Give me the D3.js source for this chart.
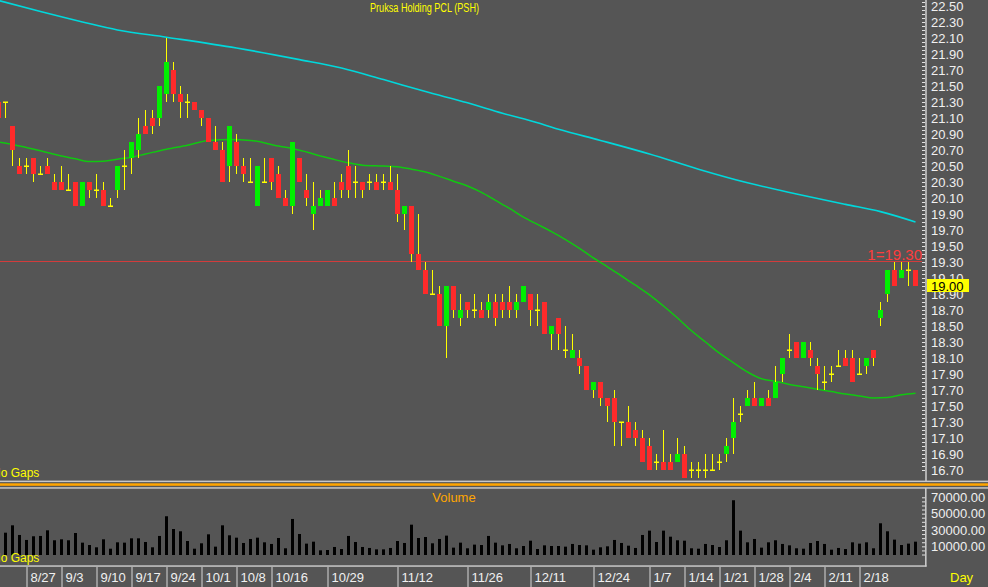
<!DOCTYPE html>
<html><head><meta charset="utf-8">
<script src="https://cdn.jsdelivr.net/npm/d3@7"></script>
<style>html,body{margin:0;padding:0;background:#555555;overflow:hidden}svg{display:block}</style>
</head><body><svg id="c" width="988" height="587"></svg>
<script>
const dates = ["8/21","8/22","8/23","8/24","8/27","8/28","8/29","8/30","8/31",
"9/3","9/4","9/5","9/6","9/7","9/10","9/11","9/12","9/13","9/14","9/17","9/18","9/19","9/20","9/21",
"9/24","9/25","9/26","9/27","9/28","10/1","10/2","10/3","10/4","10/5","10/8","10/9","10/10","10/11","10/12",
"10/16","10/17","10/18","10/19","10/22","10/24","10/25","10/26","10/29","10/30","10/31","11/1","11/2",
"11/5","11/6","11/7","11/8","11/9","11/12","11/13","11/14","11/15","11/16","11/19","11/20","11/21","11/22","11/23",
"11/26","11/27","11/28","11/29","11/30","12/3","12/4","12/6","12/7","12/11","12/12","12/13","12/14",
"12/17","12/18","12/19","12/20","12/21","12/24","12/25","12/26","12/27","12/28","1/2","1/3","1/4",
"1/7","1/8","1/9","1/10","1/11","1/14","1/15","1/16","1/17","1/18","1/21","1/22","1/23","1/24","1/25",
"1/28","1/29","1/30","1/31","2/1","2/4","2/5","2/6","2/7","2/8","2/11","2/12","2/13","2/14","2/15",
"2/18","2/20","2/21","2/22","2/25","2/26","2/27","2/28","3/1"];
const open  = [21.3,21.3,21.0,20.5,20.5,20.6,20.4,20.5,20.3,20.3,20.2,20.3,20.0,20.3,20.2,20.2,20.0,20.2,20.5,20.6,20.7,21.0,21.1,21.1,21.4,21.7,21.4,21.3,21.3,21.2,21.1,20.8,20.7,20.5,20.8,20.5,20.3,20.0,20.3,20.6,20.4,20.1,20.0,20.6,20.2,19.9,20.0,20.0,20.1,20.3,20.5,20.3,20.3,20.3,20.3,20.3,20.3,20.2,19.9,20.0,19.4,19.2,18.9,18.9,18.5,19.0,18.6,18.8,18.7,18.7,18.7,18.8,18.8,18.8,18.7,18.8,18.9,18.7,18.8,18.4,18.6,18.2,18.1,18.1,18.0,17.7,17.8,17.6,17.6,17.3,17.3,17.2,17.1,17.0,16.8,16.8,16.8,16.8,16.9,16.7,16.7,16.7,16.7,16.8,16.9,17.1,17.4,17.5,17.6,17.5,17.6,17.6,17.9,18.2,18.3,18.1,18.2,18.0,17.8,17.9,18.0,18.1,18.1,17.9,18.0,18.2,18.6,18.9,19.2,19.1,19.2,19.2];
const high  = [21.3,21.3,21.0,20.6,20.6,20.6,20.5,20.6,20.4,20.5,20.4,20.3,20.3,20.3,20.4,20.3,20.1,20.5,20.7,20.8,21.1,21.2,21.2,21.5,22.1,21.8,21.5,21.4,21.3,21.2,21.1,21.0,20.8,21.0,20.9,20.6,20.6,20.5,20.6,20.6,20.5,20.2,20.8,20.6,20.4,20.3,20.2,20.2,20.3,20.4,20.7,20.5,20.3,20.4,20.4,20.4,20.5,20.4,20.0,20.0,19.9,19.3,19.2,19.0,19.0,19.0,18.9,18.8,18.9,18.8,18.9,18.9,18.9,19.0,18.9,19.0,18.9,18.9,18.8,18.5,18.6,18.5,18.4,18.2,18.0,17.8,17.8,17.6,17.7,17.3,17.5,17.3,17.2,17.1,16.9,17.2,16.9,17.1,17.0,16.8,16.8,16.9,16.9,16.9,17.1,17.6,17.5,17.7,17.8,17.6,17.7,18.0,18.1,18.4,18.3,18.3,18.3,18.1,18.0,18.0,18.2,18.2,18.2,18.1,18.1,18.2,18.8,19.2,19.3,19.3,19.3,19.2];
const low   = [21.1,21.1,20.5,20.4,20.4,20.3,20.4,20.4,20.2,20.2,20.2,20.0,20.0,20.1,20.1,20.0,20.0,20.1,20.2,20.4,20.6,20.9,20.9,21.0,21.3,21.3,21.1,21.1,21.2,21.0,20.8,20.7,20.3,20.3,20.4,20.3,20.3,20.0,20.3,20.2,20.1,20.0,19.9,20.3,20.0,19.7,20.0,20.0,20.0,20.1,20.1,20.1,20.1,20.2,20.2,20.2,20.2,19.8,19.7,19.3,19.2,18.9,18.9,18.5,18.1,18.6,18.5,18.6,18.6,18.6,18.6,18.5,18.6,18.6,18.6,18.8,18.5,18.5,18.4,18.2,18.2,18.1,18.1,17.9,17.7,17.6,17.5,17.3,17.0,17.0,17.1,17.0,16.8,16.7,16.7,16.7,16.7,16.8,16.6,16.6,16.6,16.6,16.7,16.7,16.8,16.9,17.3,17.5,17.5,17.5,17.5,17.6,17.8,18.1,18.1,18.1,18.0,17.7,17.7,17.8,18.0,18.0,17.8,17.9,17.9,18.0,18.5,18.8,19.0,19.1,19.0,19.0];
const close = [21.1,21.3,20.7,20.4,20.5,20.4,20.4,20.4,20.2,20.2,20.2,20.0,20.3,20.2,20.2,20.0,20.0,20.5,20.5,20.8,20.9,20.9,21.0,21.5,21.8,21.4,21.3,21.3,21.2,21.1,20.8,20.7,20.3,21.0,20.5,20.4,20.3,20.5,20.3,20.3,20.1,20.0,20.8,20.3,20.1,20.0,20.1,20.2,20.0,20.2,20.2,20.3,20.2,20.3,20.2,20.3,20.2,19.9,20.0,19.4,19.2,18.9,18.9,18.5,19.0,18.7,18.7,18.7,18.7,18.6,18.8,18.6,18.7,18.7,18.8,19.0,18.7,18.7,18.4,18.5,18.4,18.2,18.2,18.0,17.7,17.8,17.6,17.5,17.3,17.3,17.1,17.1,16.8,16.7,16.8,16.7,16.7,16.9,16.6,16.7,16.7,16.7,16.7,16.8,17.0,17.3,17.4,17.6,17.5,17.6,17.5,17.8,18.1,18.2,18.1,18.3,18.1,17.9,17.8,17.9,18.0,18.0,17.8,17.9,18.1,18.1,18.7,19.2,19.0,19.2,19.2,19.0];
const volume = [37000,26700,35700,23900,17800,22300,22700,29600,17400,18600,17400,26300,14500,11600,8800,18600,7100,14900,14500,19800,19800,15300,8800,22700,46800,31200,28400,16500,7100,13700,24700,9600,35700,23500,20600,14100,19000,20600,14900,12900,20200,7600,43500,25100,13300,15700,5100,5500,9200,6700,22700,15300,9200,8000,6300,6300,8000,16500,14100,36500,20200,21400,13700,19000,23100,8400,14500,7600,12100,11600,22700,14500,11200,12900,7600,10400,16900,6700,11200,10400,10400,9600,12900,11600,11200,5900,8800,10000,17800,14100,10800,8000,23900,29200,15300,29200,21800,17400,16900,7600,7100,12900,11600,9200,17400,66400,29200,14900,19000,8400,14900,17400,12900,11200,7600,7100,14100,16500,12900,5900,8000,6700,14900,13300,14900,7600,38200,28400,18200,11600,13300,15700];
// moving averages, at candle indices
const maShortIdx = [0,3,6,9,11,13,15,17,19,21,24,27,30,33,36,40,42,44,46,48,50,52,55,57,59,61,63,65,67,69,71,73,75,77,79,81,83,85,87,89,91,93,95,97,99,101,103,105,107,109,111,113,115,117,119,121,123,125,127,129,131];
const maShortVal = [20.80,20.75,20.69,20.625,20.59,20.555,20.56,20.585,20.61,20.65,20.71,20.76,20.82,20.83,20.82,20.75,20.72,20.675,20.625,20.58,20.54,20.51,20.50,20.49,20.46,20.425,20.37,20.31,20.25,20.17,20.07,19.97,19.86,19.77,19.68,19.58,19.47,19.35,19.24,19.125,19.01,18.89,18.75,18.60,18.44,18.30,18.16,18.04,17.925,17.84,17.81,17.77,17.74,17.71,17.68,17.65,17.625,17.60,17.605,17.64,17.66];
const maLongIdx = [0,6,12,17,24,34,43,49,55,61,67,72,77,80,86,93,100,107,114,121,126,131];
const maLongVal = [22.57,22.43,22.30,22.20,22.11,21.975,21.83,21.725,21.58,21.43,21.29,21.16,21.04,20.96,20.82,20.65,20.46,20.29,20.15,20.02,19.93,19.80];
const dateTicks = ["8/27","9/3","9/10","9/17","9/24","10/1","10/8","10/16","10/29","11/12","11/26","12/11","12/24","1/7","1/14","1/21","1/28","2/4","2/11","2/18"];
const priceTicks = [22.5,22.3,22.1,21.9,21.7,21.5,21.3,21.1,20.9,20.7,20.5,20.3,20.1,19.9,19.7,19.5,19.3,19.1,18.9,18.7,18.5,18.3,18.1,17.9,17.7,17.5,17.3,17.1,16.9,16.7];
const volumeTicks = [70000,50000,30000,10000];
const title = "Pruksa Holding PCL (PSH)";
const lastPrice = 19.00;
const markPrice = 19.30;

const svg = d3.select("#c");
const W = 988, H = 587;
const F = "'Liberation Sans', Arial, sans-serif";
svg.append("rect").attr("width", W).attr("height", H).attr("fill", "#555555");

const x = d3.scalePoint().domain(dates).range([-1.5, 915.5]);
const y = d3.scaleLinear().domain([16.7, 22.5]).range([470, 6]);
const yv = d3.scaleLinear().domain([0, 70000]).range([554.5, 497.3]);

svg.append("clipPath").attr("id","pc").append("rect").attr("x",0).attr("y",0).attr("width",925).attr("height",480);
svg.append("clipPath").attr("id","vc").append("rect").attr("x",0).attr("y",489).attr("width",925).attr("height",76);
const pg = svg.append("g").attr("clip-path","url(#pc)");
const vg = svg.append("g").attr("clip-path","url(#vc)");

// title
svg.append("text").attr("x", 424.5).attr("y", 12).attr("text-anchor","middle")
  .attr("font-family", F).attr("font-size", 12).attr("fill", "#ffff00")
  .attr("textLength", 109).attr("lengthAdjust","spacingAndGlyphs").text(title);

// mark line at 19.30
pg.append("line").attr("x1",0).attr("x2",922).attr("y1",Math.round(y(markPrice))-0.5).attr("y2",Math.round(y(markPrice))-0.5)
  .attr("stroke","#d23c3c").attr("stroke-width",1);

// moving averages
const lineGen = d3.line().x(d => x(dates[d[0]])).y(d => y(d[1])).curve(d3.curveMonotoneX);
pg.append("path").datum(maLongIdx.map((k,j)=>[k,maLongVal[j]])).attr("d", lineGen)
  .attr("fill","none").attr("stroke","#00d8dc").attr("stroke-width",1.6);
pg.append("path").datum(maShortIdx.map((k,j)=>[k,maShortVal[j]])).attr("d", lineGen)
  .attr("fill","none").attr("stroke","#10c810").attr("stroke-width",1.5);

// candles
const idx = d3.range(dates.length);
pg.selectAll(".wick").data(idx).join("line").attr("class","wick")
  .attr("x1", i => x(dates[i])).attr("x2", i => x(dates[i]))
  .attr("y1", i => y(high[i])).attr("y2", i => y(low[i]) + (high[i]===low[i]?1:0))
  .attr("stroke","#ffff00").attr("stroke-width",1);
pg.selectAll(".body").data(idx).join("rect").attr("class","body")
  .attr("x", i => x(dates[i]) - 2.5).attr("width", 5)
  .attr("y", i => close[i]===open[i] ? y(open[i]) - 0.5 : y(Math.max(open[i], close[i])))
  .attr("height", i => close[i]===open[i] ? 1.5 : y(Math.min(open[i], close[i])) - y(Math.max(open[i], close[i])))
  .attr("fill", i => close[i] > open[i] ? "#00f000" : close[i] < open[i] ? "#ff2a2a" : "#ffff00");

// "No Gaps" labels (clipped on left as in the original)
svg.append("text").attr("x",-8).attr("y",477).attr("font-family",F).attr("font-size",12).attr("fill","#ffff00").text("No Gaps");

// price axis
const pAxis = svg.append("g").attr("transform","translate(926,0)")
  .call(d3.axisRight(y).tickValues(priceTicks).tickFormat(d3.format(".2f")).tickSize(0).tickPadding(5));
pAxis.select(".domain").remove();
pAxis.selectAll("text").attr("font-family",F).attr("font-size",13).attr("fill","#f0f0f0");
const minor = d3.range(0, 118).map(k => 16.7 + k*0.05);
const mAxis = svg.append("g").attr("transform","translate(925,0)")
  .call(d3.axisLeft(y).tickValues(minor).tickSize(3).tickFormat(""));
mAxis.select(".domain").remove();
mAxis.selectAll("line").attr("stroke","#e0e0e0");
svg.append("line").attr("x1",926).attr("x2",926).attr("y1",0).attr("y2",481).attr("stroke","#c8c8c8").attr("stroke-width",1.6);

// mark label & last price box
svg.append("text").attr("x",922).attr("y",259.5).attr("text-anchor","end").attr("font-family",F).attr("font-size",15)
  .attr("fill","#ff3c3c").text("1=" + d3.format(".2f")(markPrice));
svg.append("rect").attr("x",927).attr("y",y(lastPrice)-7).attr("width",42).attr("height",13).attr("fill","#ffff00");
svg.append("text").attr("x",931).attr("y",y(lastPrice)+4.5).attr("font-family",F).attr("font-size",13).attr("fill","#000")
  .text(d3.format(".2f")(lastPrice));

// panel separators
svg.append("rect").attr("x",0).attr("y",480.6).attr("width",W).attr("height",1.5).attr("fill","#c8c8c8");
svg.append("rect").attr("x",0).attr("y",483.3).attr("width",W).attr("height",2.5).attr("fill","#ffa500");
svg.append("rect").attr("x",0).attr("y",487.2).attr("width",W).attr("height",1.5).attr("fill","#c8c8c8");

// volume panel
svg.append("text").attr("x",454).attr("y",502).attr("text-anchor","middle").attr("font-family",F).attr("font-size",13)
  .attr("fill","#ffa500").text("Volume");
vg.selectAll(".vbar").data(idx).join("rect").attr("class","vbar")
  .attr("x", i => x(dates[i]) - 1.5).attr("width", 3)
  .attr("y", i => yv(volume[i])).attr("height", i => 555 - yv(volume[i]))
  .attr("fill","#000");
svg.append("text").attr("x",-8).attr("y",562).attr("font-family",F).attr("font-size",12).attr("fill","#ffff00").text("No Gaps");

const vAxis = svg.append("g").attr("transform","translate(926,0)")
  .call(d3.axisRight(yv).tickValues(volumeTicks).tickFormat(d3.format(".2f")).tickSize(0).tickPadding(5));
vAxis.select(".domain").remove();
vAxis.selectAll("text").attr("font-family",F).attr("font-size",13).attr("fill","#f0f0f0");
const vminor = d3.range(0, 15).map(k => k*5000);
const vmAxis = svg.append("g").attr("transform","translate(925,0)")
  .call(d3.axisLeft(yv).tickValues(vminor).tickSize(3).tickFormat(""));
vmAxis.select(".domain").remove();
vmAxis.selectAll("line").attr("stroke","#e0e0e0");
svg.append("line").attr("x1",925.8).attr("x2",925.8).attr("y1",488).attr("y2",566.5).attr("stroke","#c8c8c8").attr("stroke-width",1.6);
svg.append("rect").attr("x",0).attr("y",565.3).attr("width",926.6).attr("height",1.5).attr("fill","#c8c8c8");

// date axis
const dAxis = svg.append("g").attr("transform","translate(0,567)")
  .call(d3.axisBottom(x).tickValues(dateTicks).tickSize(20).tickPadding(0));
dAxis.select(".domain").remove();
dAxis.selectAll("line").attr("stroke","#d8d8d8").attr("stroke-width",1);
dAxis.selectAll("text").attr("text-anchor","start").attr("dx",3.5).attr("y",15).attr("dy",0)
  .attr("font-family",F).attr("font-size",13).attr("fill","#f0f0f0");
svg.append("text").attr("x",950).attr("y",582).attr("font-family",F).attr("font-size",13).attr("fill","#ffff00").text("Day");
</script></body></html>
